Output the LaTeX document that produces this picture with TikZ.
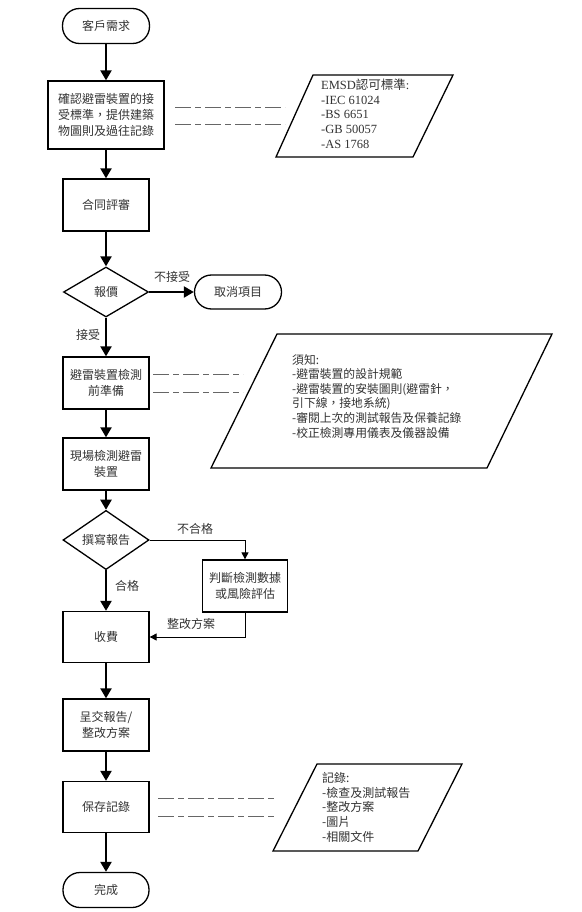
\documentclass[tikz,border=0pt]{standalone}
\usepackage{fontspec}
\setmainfont{Liberation Serif}
\newfontfamily\cjk{Noto Sans CJK TC}
\usetikzlibrary{shapes.geometric,arrows.meta}
\begin{document}
\begin{tikzpicture}[x=1pt,y=-1pt,
  every node/.style={text=black!80},
  box/.style={draw=black, line width=1.3pt, minimum width=86pt, minimum height=52pt, align=center, inner sep=2pt, font=\cjk\fontsize{12}{16}\selectfont},
  term/.style={draw=black, line width=1.3pt, rounded corners=17pt, minimum width=87pt, minimum height=35pt, font=\cjk\fontsize{12}{16}\selectfont},
  dec/.style={draw=black, diamond, line width=1.3pt, minimum width=86pt, minimum height=51pt, inner sep=0pt, font=\cjk\fontsize{12}{16}\selectfont},
  arr/.style={line width=2.2pt, -{Triangle[width=11pt,length=10pt]}},
  thinarr/.style={line width=1pt, -{Triangle[width=7pt,length=7pt]}},
  lbl/.style={font=\cjk\fontsize{12}{14}\selectfont},
  dashline/.style={black!60, line width=0.9pt, dash pattern=on 16pt off 4pt on 6pt off 4pt},
  para/.style={draw=black, line width=1.3pt, line join=miter},
  paratext/.style={anchor=north west, align=left, inner sep=0pt},
]
\useasboundingbox (0,0) rectangle (581,912);
\fill[white] (0,0) rectangle (581,912);

% main flow
\node[term] (start) at (106,26) {客戶需求};
\node[box, minimum width=116pt, minimum height=68pt] (b1) at (106,115) {確認避雷裝置的接\\受標準，提供建築\\物圖則及過往記錄};
\node[box] (b2) at (106,205) {合同評審};
\node[dec, minimum width=85pt, minimum height=50pt] (d1) at (106,292) {報價};
\node[term, minimum height=34pt] (cancel) at (238,292) {取消項目};
\node[box] (b3) at (106,383) {避雷裝置檢測\\前準備};
\node[box] (b4) at (106,464) {現場檢測避雷\\裝置};
\node[dec] (d2) at (106,540) {撰寫報告};
\node[box, minimum width=85pt] (b5) at (245,586) {判斷檢測數據\\或風險評估};
\node[box, minimum height=51pt] (b6) at (106,637) {收費};
\node[box] (b7) at (106,725) {呈交報告/\\整改方案};
\node[box, minimum height=51pt] (b8) at (106,807) {保存記錄};
\node[term, minimum width=86pt] (end) at (106,890) {完成};

\draw[arr] (start) -- (b1);
\draw[arr] (b1) -- (b2);
\draw[arr] (b2) -- (d1);
\draw[arr] (d1) -- (cancel);
\draw[arr] (d1) -- (b3);
\draw[arr] (b3) -- (b4);
\draw[arr] (b4) -- (d2);
\draw[arr] (d2) -- (b6);
\draw[thinarr] (d2.east) -| (b5.north);
\draw[thinarr] (b5.south) |- (b6.east);
\draw[arr] (b6) -- (b7);
\draw[arr] (b7) -- (b8);
\draw[arr] (b8) -- (end);

% labels
\node[lbl] (l1) at (172,277) {不接受};
\node[lbl] (l2) at (88,335) {接受};
\node[lbl] (l3) at (195,529) {不合格};
\node[lbl] (l4) at (127,586) {合格};
\node[lbl] (l5) at (191,624) {整改方案};

% annotation 1
\draw[para] (313,75) -- (453,75) -- (413,157) -- (276,157) -- cycle;
\node[paratext, font=\fontsize{12.5}{14.6}\selectfont] (p1) at (321,79) {EMSD{\cjk 認可標準}:\\-IEC 61024\\-BS 6651\\-GB 50057\\-AS 1768};
\draw[dashline] (175,107) -- (285,107);
\draw[dashline] (175,124) -- (285,124);

% annotation 2
\draw[para] (277,334) -- (552,334) -- (487,468) -- (211,468) -- cycle;
\node[paratext, font=\cjk\fontsize{11.8}{14.6}\selectfont] (p2) at (292,354) {須知:\\-避雷裝置的設計規範\\-避雷裝置的安裝圖則(避雷針，\\引下線，接地系統)\\-審閱上次的測試報告及保養記錄\\-校正檢測專用儀表及儀器設備};
\draw[dashline] (153,374) -- (243,374);
\draw[dashline] (153,392) -- (243,392);

% annotation 3
\draw[para] (317,764) -- (462,764) -- (418,851) -- (273,851) -- cycle;
\node[paratext, font=\cjk\fontsize{12}{14.7}\selectfont] (p3) at (322,772) {記錄:\\-檢查及測試報告\\-整改方案\\-圖片\\-相關文件};
\draw[dashline] (158,798) -- (277,798);
\draw[dashline] (158,816) -- (277,816);
\end{tikzpicture}
\end{document}
